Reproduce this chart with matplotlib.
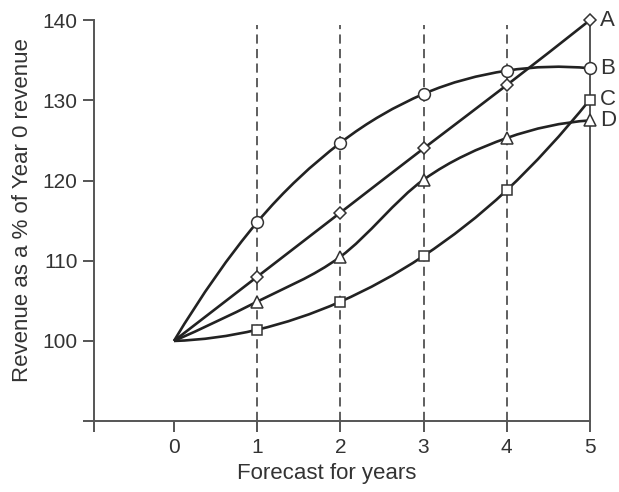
import numpy as np
import matplotlib.pyplot as plt
from matplotlib.path import Path
from matplotlib.patches import PathPatch

# Data
years = [0, 1, 2, 3, 4, 5]
series_names = ['A', 'B', 'C', 'D']
rev_a = [100, 108.0, 116.0, 124.0, 131.9, 140.0]
rev_b = [100, 114.8, 124.7, 130.8, 133.7, 134.0]
rev_c = [100, 101.4, 104.9, 110.6, 118.8, 130.1]
rev_d = [100, 104.9, 110.5, 120.1, 125.3, 127.5]
markers = ['D', 'o', 's', '^']
marker_sizes = [6.5, 8.5, 6.5, 8]

ink = '#222222'
axis_col = '#555555'
text_col = '#333333'

plt.rcParams['font.family'] = ['Liberation Sans', 'DejaVu Sans']

fig = plt.figure(figsize=(6.19, 4.92), dpi=100)
ax = fig.add_axes([0.152, 0.144, 0.801, 0.815])


def smooth_path(xs, ys):
    # Catmull-Rom through the points, drawn as cubic Bezier segments;
    # end tangents come from a quadratic through the last three points
    pts = np.column_stack([np.asarray(xs, float), np.asarray(ys, float)])
    first = pts[2] - 3 * pts[1] + 3 * pts[0]
    last = pts[-3] - 3 * pts[-2] + 3 * pts[-1]
    ext = np.vstack([first, pts, last])
    verts = [pts[0]]
    codes = [Path.MOVETO]
    for i in range(1, len(ext) - 2):
        p0, p1, p2, p3 = ext[i - 1], ext[i], ext[i + 1], ext[i + 2]
        c1 = p1 + (p2 - p0) / 6.0
        c2 = p2 - (p3 - p1) / 6.0
        verts += [c1, c2, p2]
        codes += [Path.CURVE4] * 3
    return Path(verts, codes)


# dashed year guides
for yr in years[1:5]:
    ax.plot([yr, yr], [90, 139.4], ls=(0, (6, 3.5)), color='#333333', lw=1.1, zorder=1)

all_series = [rev_a, rev_b, rev_c, rev_d]
for name, vals, mk, ms in zip(series_names, all_series, markers, marker_sizes):
    ax.add_patch(PathPatch(smooth_path(years, vals), fill=False, edgecolor=ink,
                           lw=1.9, zorder=2))
    ax.plot(years[1:], vals[1:], ls='none', marker=mk, markersize=ms,
            markerfacecolor='white', markeredgecolor='#333333', markeredgewidth=1.1,
            zorder=3, clip_on=False)
    ax.text(years[-1] + 0.12, vals[-1], name, fontsize=16, color=text_col,
            va='center', ha='left')

ax.set_xlim(-0.96, 5)
ax.set_ylim(90, 140)

ax.spines['top'].set_visible(False)
for sp in ['left', 'right', 'bottom']:
    ax.spines[sp].set_color(axis_col)
    ax.spines[sp].set_linewidth(1.4)

ax.set_xticks(years)
ax.set_xticks([-0.96], minor=True)
ax.set_yticks([100, 110, 120, 130, 140])
ax.set_yticks([90], minor=True)
ax.tick_params(axis='x', which='both', direction='out', length=8, width=1.4,
               color=axis_col, labelsize=15, labelcolor=text_col, pad=4)
ax.tick_params(axis='y', which='both', direction='out', length=8, width=1.4,
               color=axis_col, labelsize=15, labelcolor=text_col, pad=4)
ax.tick_params(axis='y', which='both', right=False)

ax.set_xlabel('Forecast for years', fontsize=16, color=text_col)
ax.set_ylabel('Revenue as a % of Year 0 revenue', fontsize=16, color=text_col)
ax.xaxis.set_label_coords(0.47, -0.105)
ax.yaxis.set_label_coords(-0.123, 0.526)

fig.savefig('out.png', dpi=100)
